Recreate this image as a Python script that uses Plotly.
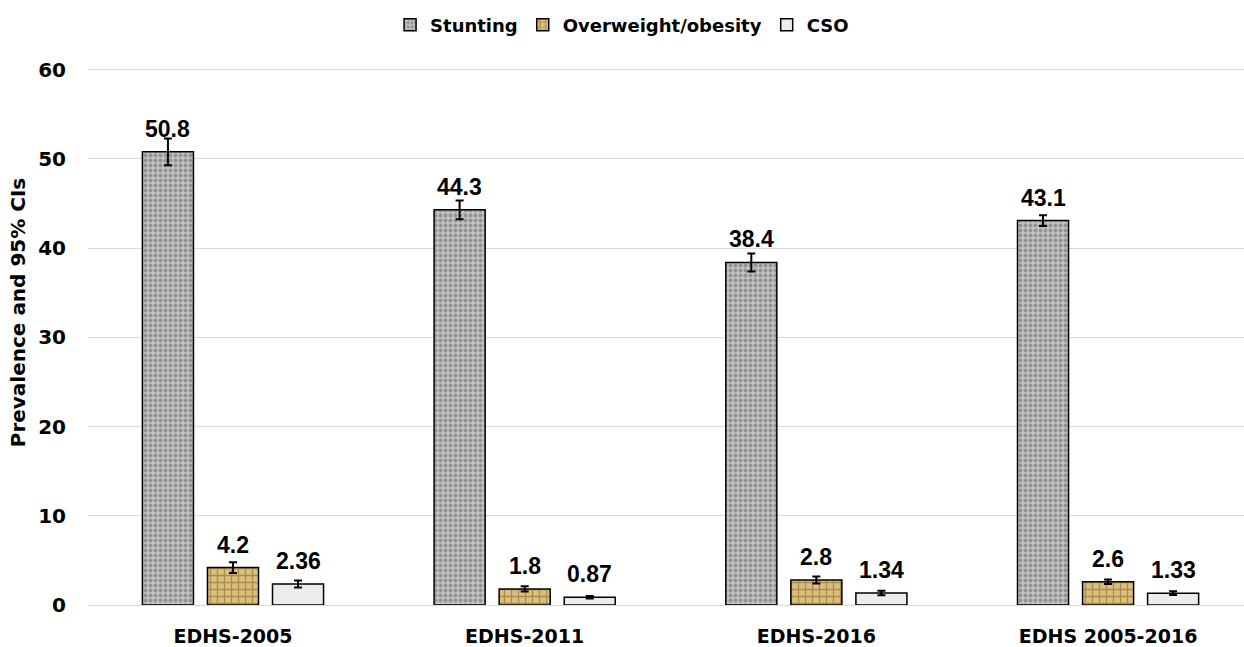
import plotly.graph_objects as go

# Survey rounds and prevalence estimates (%) with 95% CI half-widths
categories = ["EDHS-2005", "EDHS-2011", "EDHS-2016", "EDHS 2005-2016"]
stunting = [50.8, 44.3, 38.4, 43.1]
stunting_ci = [1.5, 1.05, 1.0, 0.6]
overweight = [4.2, 1.8, 2.8, 2.6]
overweight_ci = [0.6, 0.3, 0.4, 0.25]
cso = [2.36, 0.87, 1.34, 1.33]
cso_ci = [0.4, 0.15, 0.25, 0.2]
y_ticks = [0, 10, 20, 30, 40, 50, 60]

series = [
    ("Stunting", stunting, stunting_ci,
     dict(color="#bdbdbd", pattern=dict(shape=".", fgcolor="#626262", bgcolor="#c2c2c2",
                                         size=5, solidity=0.45))),
    ("Overweight/obesity", overweight, overweight_ci,
     dict(color="#d6b872", pattern=dict(shape="+", fgcolor="#7a5820", bgcolor="#dcc07e",
                                         size=7, solidity=0.35))),
    ("CSO", cso, cso_ci, dict(color="#ececec")),
]

slot = 0.223      # spacing between bars inside a group
bar_w = 0.175     # bar width in category units
cat_idx = list(range(len(categories)))

fig = go.Figure()
annotations = []
for j, (name, vals, ci, marker) in enumerate(series):
    xs = [i + (j - 1) * slot for i in cat_idx]
    fig.add_trace(go.Bar(
        name=f"<b>{name}</b>", x=xs, y=vals, width=bar_w,
        marker=dict(**marker, line=dict(color="#000000", width=1.5)),
        error_y=dict(type="data", array=ci, visible=True, color="#000000",
                     thickness=2, width=4),
    ))
    for x, v in zip(xs, vals):
        annotations.append(dict(
            x=x, y=v, xref="x", yref="y", text=f"<b>{v:g}</b>", showarrow=False,
            yanchor="bottom", yshift=8,
            font=dict(family="Liberation Sans, Arial, sans-serif", size=23, color="#000000"),
        ))

# y-axis title drawn as a rotated annotation
annotations.append(dict(
    x=-0.0606, y=0.545, xref="paper", yref="paper", text="<b>Prevalence and 95% CIs</b>",
    textangle=-90, showarrow=False, xanchor="center", yanchor="middle",
    font=dict(family="DejaVu Sans, sans-serif", size=20, color="#000000"),
))

fig.update_layout(
    width=1244, height=647,
    margin=dict(l=88, r=0, t=68, b=42),
    paper_bgcolor="#ffffff", plot_bgcolor="#ffffff",
    barmode="overlay",
    showlegend=True,
    legend=dict(orientation="h", x=0.462, xanchor="center", y=1.08, yanchor="middle",
                font=dict(family="DejaVu Sans, sans-serif", size=18, color="#000000"),
                itemwidth=30, traceorder="normal"),
    annotations=annotations,
    xaxis=dict(
        tickmode="array", tickvals=cat_idx,
        ticktext=[f"<b>{c}</b>" for c in categories],
        range=[-0.497, 3.466], showgrid=False, zeroline=False,
        showline=True, linecolor="#d9d9d9", linewidth=1,
        ticks="", ticklabelstandoff=14,
        tickfont=dict(family="DejaVu Sans, sans-serif", size=19, color="#000000"),
    ),
    yaxis=dict(
        range=[0, 60.2], tickmode="array", tickvals=y_ticks,
        ticktext=[f"<b>{t}</b>" for t in y_ticks],
        showgrid=True, gridcolor="#d9d9d9", gridwidth=1,
        zeroline=False, showline=False, ticks="",
        tickfont=dict(family="DejaVu Sans, sans-serif", size=20, color="#000000"),
        ticklabelstandoff=21,
    ),
)

fig.write_html("out.html")
